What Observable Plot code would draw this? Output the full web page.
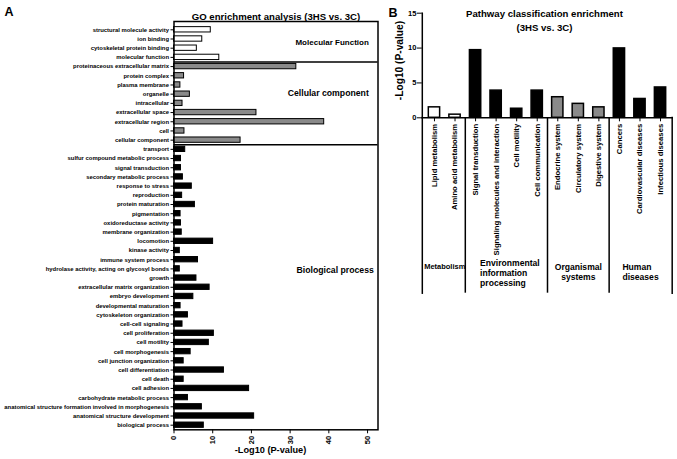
<!DOCTYPE html>
<html><head><meta charset="utf-8">
<script src="https://cdn.jsdelivr.net/npm/d3@7"></script>
<script src="https://cdn.jsdelivr.net/npm/@observablehq/plot@0.6"></script>
<style>
body{margin:0;background:#fff;}
#wrap{position:relative;width:677px;height:459px;overflow:hidden;background:#fff;}
#wrap svg{position:absolute;}
</style></head><body><div id="wrap"></div>
<script>
// ---------- Panel A data ----------
const goCategories = [
  "structural molecule activity","ion binding","cytoskeletal protein binding","molecular function",
  "proteinaceous extracellular matrix","protein complex","plasma membrane","organelle","intracellular",
  "extracellular space","extracellular region","cell","cellular component",
  "transport","sulfur compound metabolic process","signal transduction","secondary metabolic process",
  "response to stress","reproduction","protein maturation","pigmentation","oxidoreductase activity",
  "membrane organization","locomotion","kinase activity","immune system process",
  "hydrolase activity, acting on glycosyl bonds","growth","extracellular matrix organization",
  "embryo development","developmental maturation","cytoskeleton organization","cell-cell signaling",
  "cell proliferation","cell motility","cell morphogenesis","cell junction organization",
  "cell differentiation","cell death","cell adhesion","carbohydrate metabolic process",
  "anatomical structure formation involved in morphogenesis","anatomical structure development",
  "biological process"
];
const goValues = [
  9.5, 7.3, 5.9, 11.7,
  31.6, 2.6, 1.65, 4.1, 2.2, 21.3, 38.8, 2.7, 17.2,
  2.9, 1.8, 1.8, 2.3, 4.6, 2.1, 5.4, 1.7, 1.8, 2.0, 10.1, 1.5, 6.2, 1.5, 5.8, 9.2, 5.0,
  1.7, 3.6, 2.2, 10.3, 9.0, 4.3, 2.5, 12.9, 2.5, 19.4, 3.6, 7.2, 20.7, 7.7
];
const goGroupNames = ["Molecular Function","Cellular component","Biological process"];
const goGroupSizes = [4, 9, 31];
const goTicks = [0, 10, 20, 30, 40, 50];
const goTitle = "GO enrichment analysis (3HS vs. 3C)";
const axisTitle = "-Log10 (P-value)";

// ---------- Panel B data ----------
const pathCategories = [
  "Lipid metabolism","Amino acid metabolism",
  "Signal transduction","Signaling molecules and interaction","Cell motility","Cell communication",
  "Endocrine system","Circulatory system","Digestive system",
  "Cancers","Cardiovascular diseases","Infectious diseases"
];
const pathValues = [1.5, 0.45, 9.7, 3.9, 1.3, 3.9, 2.95, 2.0, 1.5, 9.95, 2.7, 4.35];
const pathGroupNames = ["Metabolism","Environmental information processing","Organismal systems","Human diseases"];
const pathGroupLabels = ["Metabolism","Environmental\ninformation\nprocessing","Organismal\nsystems","Human\ndiseases"];
const pathGroupSizes = [2, 4, 3, 3];
const pathTicks = [0, 5, 10, 15];
const pathTitle = "Pathway classification enrichment\n(3HS vs. 3C)";

// ---------- build tables ----------
function expandGroups(names, sizes) {
  const out = [];
  names.forEach((n, i) => { for (let k = 0; k < sizes[i]; k++) out.push(n); });
  return out;
}
const goGroups = expandGroups(goGroupNames, goGroupSizes);
const pathGroups = expandGroups(pathGroupNames, pathGroupSizes);
const goData = goCategories.map((name, i) => ({name, value: goValues[i], group: goGroups[i]}));
const pathData = pathCategories.map((name, i) => ({name, value: pathValues[i], group: pathGroups[i]}));
const goGroupStarts = goGroupNames.slice(1).map(g => goCategories[goGroups.indexOf(g)]);
const pathGroupStarts = pathGroupNames.slice(1).map(g => pathCategories[pathGroups.indexOf(g)]);
const pathGroupFirst = pathGroupNames.map(g => pathCategories[pathGroups.indexOf(g)]);

const font = "'Liberation Sans', Arial, Helvetica, sans-serif";
const baseStyle = {fontFamily: font, fontWeight: "bold", color: "#000", background: "transparent", overflow: "visible"};

// ---------- Panel A ----------
const yRangeA = [24.7, 429.3];
const stepA = (yRangeA[1] - yRangeA[0]) / goCategories.length;
const plotA = Plot.plot({
  width: 380, height: 459,
  marginLeft: 173.5, marginRight: 2.5, marginTop: 21, marginBottom: 29.7,
  style: {...baseStyle, fontSize: "6px"},
  x: {domain: [0, 52.7]},
  y: {domain: goCategories, range: yRangeA, paddingInner: 0.42, paddingOuter: 0.21, round: false},
  color: {domain: goGroupNames, range: ["#ffffff", "#8a8a8a", "#000000"]},
  marks: [
    Plot.barX(goData, {x: "value", y: "name", fill: "group", stroke: "#000", strokeWidth: 1}),
    Plot.ruleY(goGroupStarts, {dy: -stepA / 2, stroke: "#000", strokeWidth: 1.5}),
    Plot.frame({stroke: "#000", strokeWidth: 1.5}),
    Plot.axisY({tickSize: 3, tickPadding: 2, fontSize: 5.9, label: null}),
    Plot.axisX({ticks: goTicks, tickSize: 4, tickPadding: 2, tickRotate: -90, fontSize: 7.5, label: null}),
    Plot.text([goTitle], {frameAnchor: "top", dy: -5, fontSize: 9.6, lineAnchor: "middle"}),
    Plot.text(["A"], {frameAnchor: "top-left", dx: -169.5, dy: -5.5, fontSize: 12.5, lineAnchor: "bottom", textAnchor: "start"}),
    Plot.text([axisTitle], {frameAnchor: "bottom", dx: -5.5, dy: 20.7, fontSize: 9.2, lineAnchor: "middle"}),
    Plot.text([{label: goGroupNames[0], row: goCategories[1]}], {y: "row", text: "label", frameAnchor: "right", textAnchor: "end", dx: -9.2, dy: 3.8, fontSize: 8}),
    Plot.text([{label: goGroupNames[1], row: goCategories[7]}], {y: "row", text: "label", frameAnchor: "right", textAnchor: "end", dx: -9.2, dy: -1.4, fontSize: 8.7}),
    Plot.text([{label: goGroupNames[2], row: goCategories[26]}], {y: "row", text: "label", frameAnchor: "right", textAnchor: "end", dx: -4.2, dy: 1.6, fontSize: 8.7})
  ]
});
plotA.style.left = "0px"; plotA.style.top = "0px";

// ---------- Panel B ----------
const xRangeB = [53.7, 300.3];
const stepB = (xRangeB[1] - xRangeB[0]) / pathCategories.length;
const xScaleB = {domain: pathCategories, range: xRangeB, paddingInner: 0.45, paddingOuter: 0.225, round: false};
const plotB = Plot.plot({
  width: 307, height: 300,
  marginLeft: 51.8, marginRight: 5.3, marginTop: 12.7, marginBottom: 182.7,
  style: {...baseStyle, fontSize: "7.5px"},
  x: xScaleB,
  y: {domain: [0, 15]},
  color: {domain: pathGroupNames, range: ["#ffffff", "#000000", "#8a8a8a", "#000000"]},
  marks: [
    Plot.barY(pathData, {x: "name", y: "value", fill: "group", stroke: "#000", strokeWidth: 1.5}),
    Plot.frame({anchor: "left", stroke: "#000", strokeWidth: 1.5}),
    Plot.frame({anchor: "bottom", stroke: "#000", strokeWidth: 1.5}),
    Plot.axisY({ticks: pathTicks, tickSize: 5, tickPadding: 1, fontSize: 7.5, label: null}),
    Plot.axisX({tickSize: 4, tickPadding: 2, tickRotate: -90, fontSize: 7.7, fontWeight: "bold", label: null}),
    Plot.text([pathTitle], {frameAnchor: "top", dx: -2.8, dy: 6.5, lineAnchor: "middle", lineHeight: 1.5, fontSize: 9.6}),
    Plot.text(["B"], {frameAnchor: "top-left", dx: -33.8, dy: 4, fontSize: 12.5, lineAnchor: "bottom", textAnchor: "start"}),
    Plot.text([axisTitle], {frameAnchor: "left", rotate: -90, dx: -22.5, dy: -5, fontSize: 10.2, lineAnchor: "middle", textAnchor: "middle"})
  ]
});
plotB.style.left = "370px"; plotB.style.top = "0px";

// group dividers and labels below panel B
const groupInfo = pathGroupLabels.map((label, i) => ({label, cat: pathGroupFirst[i]}));
const plotBGroups = Plot.plot({
  width: 307, height: 175.7,
  marginLeft: 51.8, marginRight: 5.3, marginTop: 0, marginBottom: 0,
  style: {...baseStyle, fontSize: "8.6px"},
  x: {...xScaleB, axis: null},
  marks: [
    Plot.frame({anchor: "left", stroke: "#000", strokeWidth: 1.5}),
    Plot.frame({anchor: "right", stroke: "#000", strokeWidth: 1.5}),
    Plot.ruleX(pathGroupStarts, {dx: -stepB / 2, stroke: "#000", strokeWidth: 1.5}),
    Plot.text([groupInfo[0]], {x: "cat", text: "label", frameAnchor: "top", dx: stepB / 2, dy: 149.4, fontSize: 7.5, lineAnchor: "middle"}),
    Plot.text([groupInfo[1]], {x: "cat", text: "label", frameAnchor: "top", dx: 4.5, dy: 155.4, fontSize: 8.6, lineHeight: 1.16, textAnchor: "start", lineAnchor: "middle"}),
    Plot.text([groupInfo[2]], {x: "cat", text: "label", frameAnchor: "top", dx: stepB, dy: 154.4, fontSize: 8.6, lineHeight: 1.16, textAnchor: "middle", lineAnchor: "middle"}),
    Plot.text([groupInfo[3]], {x: "cat", text: "label", frameAnchor: "top", dx: 3, dy: 154.4, fontSize: 8.6, lineHeight: 1.16, textAnchor: "start", lineAnchor: "middle"})
  ]
});
plotBGroups.style.left = "370px"; plotBGroups.style.top = "117.3px";

const wrap = document.getElementById("wrap");
wrap.appendChild(plotA);
wrap.appendChild(plotB);
wrap.appendChild(plotBGroups);
</script>
</body></html>
